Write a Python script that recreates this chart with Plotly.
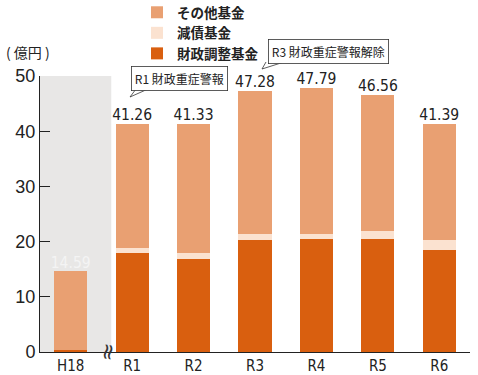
import plotly.graph_objects as go

categories = ["H18", "R1", "R2", "R3", "R4", "R5", "R6"]
zaisei_chosei = [0.3, 18.0, 16.9, 20.3, 20.5, 20.5, 18.5]
gensai = [0.0, 0.9, 1.0, 1.0, 0.9, 1.5, 1.8]
sonota = [14.29, 22.36, 23.43, 25.98, 26.39, 24.56, 21.09]
totals = [14.59, 41.26, 41.33, 47.28, 47.79, 46.56, 41.39]
total_labels = ["14.59", "41.26", "41.33", "47.28", "47.79", "46.56", "41.39"]
y_ticks = [0, 10, 20, 30, 40, 50]

C_DARK = "#D95F0F"
C_PALE = "#FBE2D0"
C_MID = "#E9A072"
NUM_FONT = "Liberation Sans Narrow, DejaVu Sans Condensed, Roboto Condensed, Roboto, Liberation Sans"
JP_FONT = "Noto Sans CJK JP"

# plot area geometry (pixels) for placing annotations
W, H = 478, 375
ML, MR, MT, MB = 40, 8, 76, 23
PW, PH = W - ML - MR, H - MT - MB


def px(xp):
    return (xp - ML) / PW


def py(yp):
    return (H - MB - yp) / PH


fig = go.Figure()
fig.add_trace(go.Bar(x=categories, y=zaisei_chosei, name="財政調整基金",
                     marker=dict(color=C_DARK, line=dict(width=0))))
fig.add_trace(go.Bar(x=categories, y=gensai, name="減債基金",
                     marker=dict(color=C_PALE, line=dict(width=0))))
fig.add_trace(go.Bar(x=categories, y=sonota, name="その他基金",
                     marker=dict(color=C_MID, line=dict(width=0))))

label_colors = ["#F4F4F4"] + ["#222222"] * (len(categories) - 1)
fig.add_trace(go.Scatter(x=categories, y=totals, mode="text", text=total_labels,
                         textposition="top center", showlegend=False, cliponaxis=False,
                         textfont=dict(family=NUM_FONT, size=15.5, color=label_colors),
                         hoverinfo="skip"))

# gray background behind H18
fig.add_shape(type="rect", xref="x", yref="y", x0=-0.5, x1=0.66, y0=0, y1=50,
              fillcolor="#E8E7E6", line=dict(width=0), layer="below")

# axis break mark
fig.add_annotation(x=0.59, y=0, xref="x", yref="y", text="≈", showarrow=False,
                   textangle=-80, xanchor="center", yanchor="middle",
                   font=dict(size=22, color="#333", family="DejaVu Sans"))

# unit label
fig.add_annotation(x=px(4), y=py(52), xref="paper", yref="paper", text="( 億円 )",
                   showarrow=False, xanchor="left", yanchor="middle",
                   font=dict(family=JP_FONT, size=14, color="#222"))

# callouts
for text, cx, cy, tail in [
    ("R1 財政重症警報", 179.5, 78.5, [(136, 89), (130, 97), (148, 89)]),
    ("R3 財政重症警報解除", 328.5, 51, [(266, 62), (262, 69), (284, 62)]),
]:
    (x1, y1), (x2, y2), (x3, y3) = tail
    path = f"M {px(x1)} {py(y1)} L {px(x2)} {py(y2)} L {px(x3)} {py(y3)}"
    fig.add_shape(type="path", xref="paper", yref="paper", path=path,
                  line=dict(color="#333", width=0.8), fillcolor="white")
    fig.add_annotation(x=px(cx), y=py(cy), xref="paper", yref="paper", text=text,
                       showarrow=False, bgcolor="white", bordercolor="#333",
                       borderwidth=0.8, borderpad=3, xanchor="center", yanchor="middle",
                       font=dict(family=JP_FONT, size=12, color="#222"))

fig.update_layout(
    width=W, height=H,
    margin=dict(l=ML, r=MR, t=MT, b=MB, autoexpand=False),
    barmode="stack", bargap=0.46,
    plot_bgcolor="white", paper_bgcolor="white",
    legend=dict(x=px(137), y=py(-3), xanchor="left", yanchor="top",
                traceorder="reversed",
                font=dict(family=JP_FONT, size=13.5, color="#222", weight="bold"),
                bgcolor="rgba(0,0,0,0)", tracegroupgap=0, itemwidth=30),
    font=dict(family=NUM_FONT),
    showlegend=True,
)
fig.update_xaxes(showline=True, linecolor="#222", linewidth=1, ticks="",
                 tickfont=dict(family=NUM_FONT, size=15, color="#222"),
                 showgrid=False, fixedrange=True)
fig.update_yaxes(range=[0, 50], tickvals=y_ticks, showline=True, linecolor="#222",
                 linewidth=1, ticks="inside", ticklen=10, tickcolor="#222",
                 tickfont=dict(family="Liberation Sans, Arial", size=18, color="#222"),
                 showgrid=False, zeroline=False, fixedrange=True)

fig.write_html("out.html", config={"displayModeBar": False},
               post_script="document.body.style.margin='0px';")
